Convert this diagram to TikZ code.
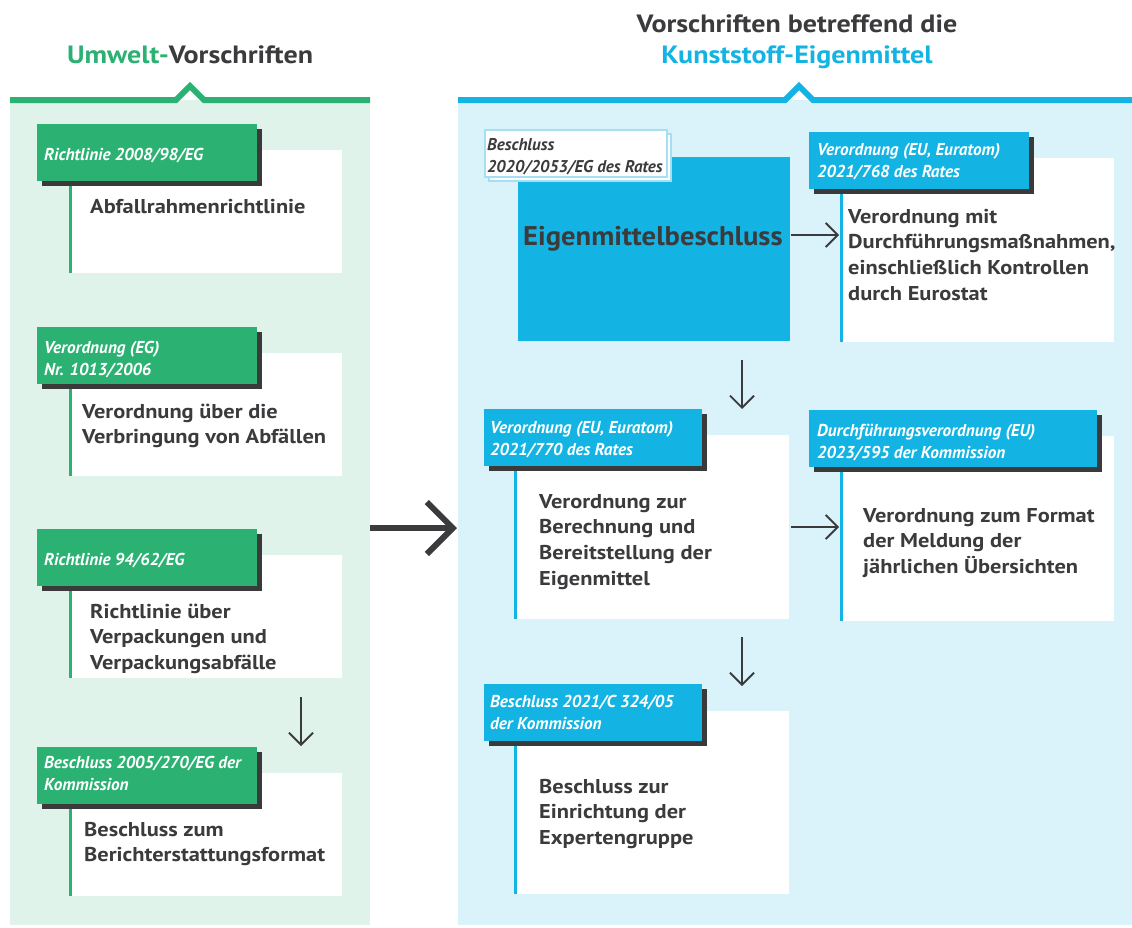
\documentclass[tikz,border=0pt]{standalone}
\usepackage{fontspec}
\setmainfont{PT Sans}
\newfontfamily\bodyfam[FakeStretch=1.12]{PT Sans}
\newfontfamily\titlefam[FakeStretch=1.12]{PT Sans}
\newfontfamily\eigfam[FakeStretch=1.06]{PT Sans}
\usetikzlibrary{arrows.meta,shadows}
\definecolor{egreen}{HTML}{2BB273}
\definecolor{eblue}{HTML}{13B4E3}
\definecolor{pgreen}{HTML}{DFF3EA}
\definecolor{pblue}{HTML}{DAF3FB}
\definecolor{dtext}{HTML}{3B3B3D}
\definecolor{shadowc}{HTML}{3A3A3A}
\definecolor{tagborder}{HTML}{A6DEF3}
\newcommand\ml[1]{\begin{tabular}[t]{@{}l@{}}#1\end{tabular}}
\newcommand\mc[1]{\begin{tabular}[t]{@{}c@{}}#1\end{tabular}}
\begin{document}
\begin{tikzpicture}[x=1pt,y=-1pt,
  wbox/.style={fill=white, inner sep=0, outer sep=0, anchor=north west},
  tagshape/.style={inner sep=0, outer sep=0, anchor=north west,
     drop shadow={shadow xshift=5pt, shadow yshift=-5pt, fill=shadowc, opacity=1}},
  gtag/.style={tagshape, fill=egreen, minimum width=220pt, minimum height=57pt},
  btag/.style={tagshape, fill=eblue, minimum height=57pt},
  tagtext/.style={anchor=base west, inner sep=0, text=white, font=\fontsize{17.2}{22}\selectfont\bfseries\itshape},
  bodytext/.style={anchor=base west, inner sep=0, text=dtext, font=\bodyfam\fontsize{20}{25.7}\selectfont\bfseries},
  gline/.style={draw=egreen, line width=3pt},
  bline/.style={draw=eblue, line width=3pt},
  flow/.style={draw=dtext, line width=1.8pt, -{Straight Barb[length=12pt, width=24pt]}},
  bigflow/.style={draw=dtext, line width=6pt, -{Straight Barb[length=26pt, width=52pt]}},
  title/.style={inner sep=0, anchor=base, text=dtext, font=\titlefam\fontsize{25}{31}\selectfont\bfseries},
]
\useasboundingbox (0,0) rectangle (1132,927);
\fill[white] (0,0) rectangle (1132,927);

% panels
\node[fill=pgreen, inner sep=0, outer sep=0, anchor=north west, minimum width=360pt, minimum height=825pt] (lp) at (10,100) {};
\node[fill=pblue, inner sep=0, outer sep=0, anchor=north west, minimum width=674pt, minimum height=825pt] (rp) at (458,100) {};
\draw[egreen, line width=6pt, miter limit=10] (10,100) -- (176,100) -- (190,86) -- (204,100) -- (370,100);
\draw[eblue, line width=6pt, miter limit=10] (458,100) -- (785,100) -- (799,86) -- (813,100) -- (1132,100);

% titles
\node[title] (t1) at (190,63) {\textcolor{egreen}{Umwelt-}Vorschriften};
\node[title] (t2) at (797,32) {\mc{Vorschriften betreffend die\\ \textcolor{eblue}{Kunststoff-Eigenmittel}}};

% ---------- left column ----------
\node[wbox, minimum width=272pt, minimum height=123pt] (L1) at (70,150) {};
\draw[gline] (L1.north west) -- (L1.south west);
\node[gtag] (L1t) at (37,124) {};
\node[tagtext] (L1l) at (44,160) {Richtlinie 2008/98/EG};
\node[bodytext] (L1b) at (90,213) {Abfallrahmenrichtlinie};

\node[wbox, minimum width=272pt, minimum height=123pt] (L2) at (70,353) {};
\draw[gline] (L2.north west) -- (L2.south west);
\node[gtag] (L2t) at (37,327) {};
\node[tagtext] (L2l) at (44,353) {\ml{Verordnung (EG)\\Nr. 1013/2006}};
\node[bodytext] (L2b) at (82,418) {\ml{Verordnung über die\\Verbringung von Abfällen}};

\node[wbox, minimum width=272pt, minimum height=123pt] (L3) at (70,555) {};
\draw[gline] (L3.north west) -- (L3.south west);
\node[gtag] (L3t) at (37,529) {};
\node[tagtext] (L3l) at (44,565) {Richtlinie 94/62/EG};
\node[bodytext] (L3b) at (90,618) {\ml{Richtlinie über\\Verpackungen und\\Verpackungsabfälle}};

\node[wbox, minimum width=272pt, minimum height=123pt] (L4) at (70,773) {};
\draw[gline] (L4.north west) -- (L4.south west);
\node[gtag] (L4t) at (37,747) {};
\node[tagtext] (L4l) at (44,768) {\ml{Beschluss 2005/270/EG der\\Kommission}};
\node[bodytext] (L4b) at (84,836) {\ml{Beschluss zum\\Berichterstattungsformat}};

\coordinate (la1) at (301,697);
\coordinate (la2) at (301,746);
\draw[flow] (la1) -- (la2);

% big arrow
\coordinate (ba1) at (370,528);
\coordinate (ba2) at (457,528);
\draw[bigflow] (ba1) -- (ba2);

% ---------- right column ----------
\node[wbox, fill=eblue, minimum width=272pt, minimum height=184pt] (E) at (518,157) {};
\node[inner sep=0, outer sep=0, anchor=north west, fill=white, draw=tagborder, line width=1.2pt,
      minimum width=182pt, minimum height=47pt,
      copy shadow={shadow xshift=4pt, shadow yshift=-4pt}] (Bt) at (485,130) {};
\node[anchor=base west, inner sep=0, text=dtext, font=\fontsize{17}{22}\selectfont\bfseries\itshape] (Btl) at (487,150) {\ml{Beschluss\\2020/2053/EG des Rates}};
\node[anchor=base west, inner sep=0, text=dtext, font=\eigfam\fontsize{27}{30}\selectfont\bfseries] (Etext) at (523,245) {Eigenmittelbeschluss};

\node[wbox, minimum width=273pt, minimum height=184pt] (R1) at (841,158) {};
\draw[bline] (R1.north west) -- (R1.south west);
\node[btag, minimum width=220pt] (R1t) at (809,132) {};
\node[tagtext] (R1l) at (817,155) {\ml{Verordnung (EU, Euratom)\\2021/768 des Rates}};
\node[bodytext] (R1b) at (848,223) {\ml{Verordnung mit\\Durchführungsmaßnahmen,\\einschließlich Kontrollen\\durch Eurostat}};

\node[wbox, minimum width=274pt, minimum height=184pt] (R2) at (515,435) {};
\draw[bline] (R2.north west) -- (R2.south west);
\node[btag, minimum width=218pt] (R2t) at (484,409) {};
\node[tagtext] (R2l) at (490,433) {\ml{Verordnung (EU, Euratom)\\2021/770 des Rates}};
\node[bodytext] (R2b) at (539,508) {\ml{Verordnung zur\\Berechnung und\\Bereitstellung der\\Eigenmittel}};

\node[wbox, minimum width=273pt, minimum height=185pt] (R3) at (841,436) {};
\draw[bline] (R3.north west) -- (R3.south west);
\node[btag, minimum width=288pt] (R3t) at (809,410) {};
\node[tagtext] (R3l) at (817,436) {\ml{Durchführungsverordnung (EU)\\2023/595 der Kommission}};
\node[bodytext] (R3b) at (863,522) {\ml{Verordnung zum Format\\der Meldung der\\jährlichen Übersichten}};

\node[wbox, minimum width=274pt, minimum height=183pt] (R4) at (515,711) {};
\draw[bline] (R4.north west) -- (R4.south west);
\node[btag, minimum width=218pt] (R4t) at (484,684) {};
\node[tagtext] (R4l) at (490,707) {\ml{Beschluss 2021/C 324/05\\der Kommission}};
\node[bodytext] (R4b) at (539,793) {\ml{Beschluss zur\\Einrichtung der\\Expertengruppe}};

% arrows right
\coordinate (ra1) at (791,235);
\coordinate (ra2) at (839,235);
\draw[flow] (ra1) -- (ra2);
\coordinate (ra3) at (791,527);
\coordinate (ra4) at (839,527);
\draw[flow] (ra3) -- (ra4);
\coordinate (rd1) at (742,360);
\coordinate (rd2) at (742,409);
\draw[flow] (rd1) -- (rd2);
\coordinate (rd3) at (742,637);
\coordinate (rd4) at (742,686);
\draw[flow] (rd3) -- (rd4);
\end{tikzpicture}
\end{document}
